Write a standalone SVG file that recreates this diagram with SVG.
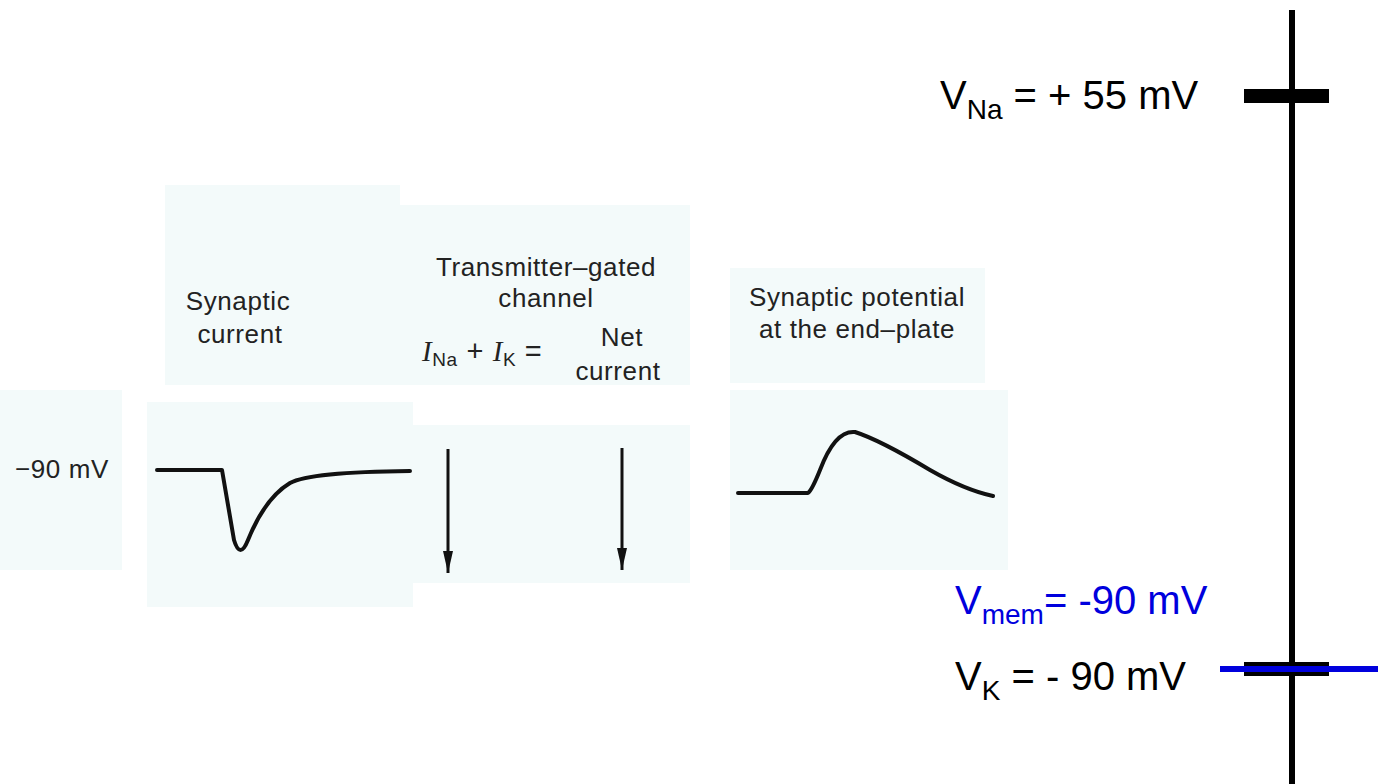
<svg xmlns="http://www.w3.org/2000/svg" width="1388" height="784" viewBox="0 0 1388 784">
<style>
.p{fill:#f3fafa}
.t{font-family:"Liberation Sans",Arial,sans-serif;fill:#222;font-size:26px;letter-spacing:0.6px}
.b{font-family:"Liberation Sans",Arial,sans-serif;font-size:40px}
.c{fill:none;stroke:#111;stroke-width:4;stroke-linejoin:round;stroke-linecap:round}
</style>
<defs><marker id="ah" markerWidth="22" markerHeight="10" refX="22" refY="5" orient="auto" markerUnits="userSpaceOnUse" viewBox="0 0 22 10"><path d="M0,0 L22,5 L0,10 Z" fill="#111"/></marker></defs>
<rect width="1388" height="784" fill="#fff"/>
<g id="panels">
<rect class="p" x="165" y="185" width="235" height="200"/>
<rect class="p" x="400" y="205" width="290" height="180"/>
<rect class="p" x="0" y="390" width="122" height="180"/>
<rect class="p" x="147" y="402" width="266" height="205"/>
<rect class="p" x="413" y="425" width="277" height="158"/>
<rect class="p" x="730" y="268" width="255" height="115"/>
<rect class="p" x="730" y="390" width="278" height="180"/>
</g>
<g id="labels">
<text class="t" x="238" y="310" text-anchor="middle">Synaptic</text>
<text class="t" x="240" y="343" text-anchor="middle">current</text>
<text class="t" x="546" y="276" text-anchor="middle">Transmitter–gated</text>
<text class="t" x="546" y="307" text-anchor="middle">channel</text>
<text class="t" x="422" y="361" style="font-size:29px"><tspan font-family="Liberation Serif" font-style="italic">I</tspan><tspan style="font-size:19px" dy="5">Na</tspan><tspan dy="-5"> + </tspan><tspan font-family="Liberation Serif" font-style="italic">I</tspan><tspan style="font-size:19px" dy="5">K</tspan><tspan dy="-5"> =</tspan></text>
<text class="t" x="622" y="346" text-anchor="middle">Net</text>
<text class="t" x="618" y="380" text-anchor="middle">current</text>
<text class="t" x="857" y="306" text-anchor="middle">Synaptic potential</text>
<text class="t" x="857" y="338" text-anchor="middle">at the end–plate</text>
<text class="t" x="62" y="478" text-anchor="middle" fill="#444">−90 mV</text>
</g>
<g id="curves">
<path class="c" d="M157,470 L222,470 L234,540 Q240,560 248,540 Q265,498 290,483 Q310,472 410,471"/>
<path class="c" d="M738,493 L808,493 Q812,490 820,470 Q835,430 855,432 Q880,440 930,470 Q965,490 993,496"/>
</g>
<g id="connectors">
<line x1="448" y1="449" x2="448" y2="573" stroke="#111" stroke-width="3" marker-end="url(#ah)"/>
<line x1="622" y1="448" x2="622" y2="570" stroke="#111" stroke-width="3" marker-end="url(#ah)"/>
</g>
<g id="axis">
<line x1="1292" y1="10" x2="1292" y2="784" stroke="#000" stroke-width="6"/>
<line x1="1244" y1="96" x2="1329" y2="96" stroke="#000" stroke-width="14"/>
<line x1="1244" y1="669" x2="1329" y2="669" stroke="#000" stroke-width="14"/>
<line x1="1220" y1="669" x2="1378" y2="669" stroke="#0000dd" stroke-width="6"/>
<text class="b" x="940" y="109">V<tspan style="font-size:28px" dy="10">Na</tspan><tspan dy="-10"> = + 55 mV</tspan></text>
<text class="b" x="955" y="614" fill="#0000dd">V<tspan style="font-size:28px" dy="10">mem</tspan><tspan dy="-10">= -90 mV</tspan></text>
<text class="b" x="955" y="690">V<tspan style="font-size:28px" dy="10">K</tspan><tspan dy="-10"> = - 90 mV</tspan></text>
</g>
</svg>
